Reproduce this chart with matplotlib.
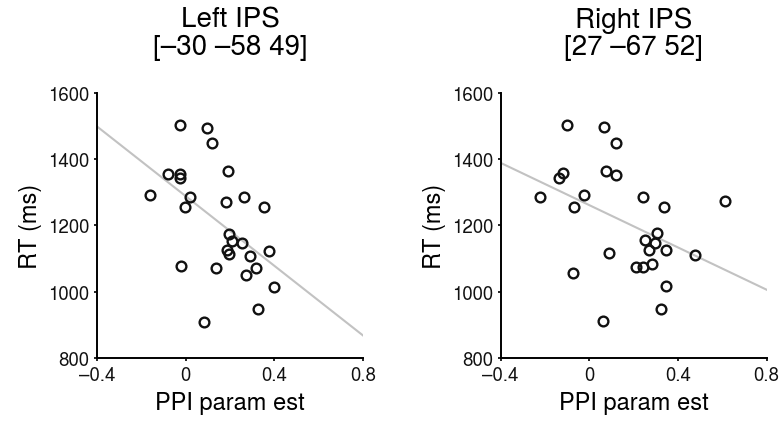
import matplotlib
matplotlib.use("Agg")
import matplotlib.pyplot as plt

plt.rcParams['font.family'] = ['TeX Gyre Heros', 'Liberation Sans', 'DejaVu Sans']

# Left IPS
left_x = [-0.024, 0.096, 0.120, -0.081, -0.024, -0.024, 0.192, -0.159, 0.018, -0.003,
          0.183, 0.262, 0.352, 0.195, 0.211, 0.256, 0.186, 0.195, 0.376, 0.292,
          -0.021, 0.135, 0.274, 0.319, 0.397, 0.328, 0.083]
left_y = [1504, 1494, 1448, 1356, 1354, 1344, 1364, 1291, 1286, 1256,
          1271, 1285, 1256, 1173, 1154, 1146, 1125, 1114, 1123, 1109,
          1078, 1073, 1052, 1071, 1014, 947, 909]
left_line_x = [-0.4, 0.8]
left_line_y = [1499, 868]

# Right IPS
right_x = [-0.101, 0.065, 0.119, -0.119, -0.138, 0.075, 0.122, -0.222, -0.023, -0.068,
           0.240, 0.339, 0.611, 0.306, 0.252, 0.297, 0.270, 0.345, 0.475, 0.089,
           0.209, 0.240, 0.282, -0.074, 0.348, 0.324, 0.062]
right_y = [1504, 1496, 1449, 1357, 1343, 1365, 1351, 1287, 1293, 1257,
           1287, 1257, 1273, 1176, 1156, 1148, 1126, 1126, 1112, 1117,
           1075, 1075, 1083, 1057, 1017, 949, 913]
right_line_x = [-0.4, 0.8]
right_line_y = [1389, 1006]

titles = ["Left IPS\n[\u201330 \u201358 49]", "Right IPS\n[27 \u201367 52]"]
xticks = [-0.4, 0, 0.4, 0.8]
xtick_labels = ["\u20130.4", "0", "0.4", "0.8"]
yticks = [800, 1000, 1200, 1400, 1600]

fig = plt.figure(figsize=(7.84, 4.27), dpi=100)
ax1 = fig.add_axes([0.1237, 0.1593, 0.3393, 0.6206])
ax2 = fig.add_axes([0.6386, 0.1593, 0.3393, 0.6206])

panels = [(ax1, left_x, left_y, left_line_x, left_line_y),
          (ax2, right_x, right_y, right_line_x, right_line_y)]

for i, (ax, xs, ys, lx, ly) in enumerate(panels):
    ax.plot(lx, ly, color='#c2c2c2', lw=1.5, zorder=1)
    ax.plot(xs, ys, 'o', ms=7, mfc='none', mec='#111111', mew=1.7, zorder=2,
            clip_on=False)
    ax.set_xlim(-0.4, 0.8)
    ax.set_ylim(800, 1600)
    ax.set_xticks(xticks)
    ax.set_xticklabels(xtick_labels)
    ax.set_yticks(yticks)
    ax.spines['top'].set_visible(False)
    ax.spines['right'].set_visible(False)
    ax.spines['left'].set_linewidth(1.4)
    ax.spines['bottom'].set_linewidth(1.4)
    ax.tick_params(direction='out', length=2.5, width=1.3, labelsize=13.5, pad=3,
                   colors='#111111')
    ax.set_xlabel("PPI param est", fontsize=17, labelpad=5)
    ax.set_ylabel("RT (ms)", fontsize=17, labelpad=4)
    ax.set_title(titles[i], fontsize=20, pad=28, linespacing=1.05)

fig.savefig("out.png", dpi=100)
